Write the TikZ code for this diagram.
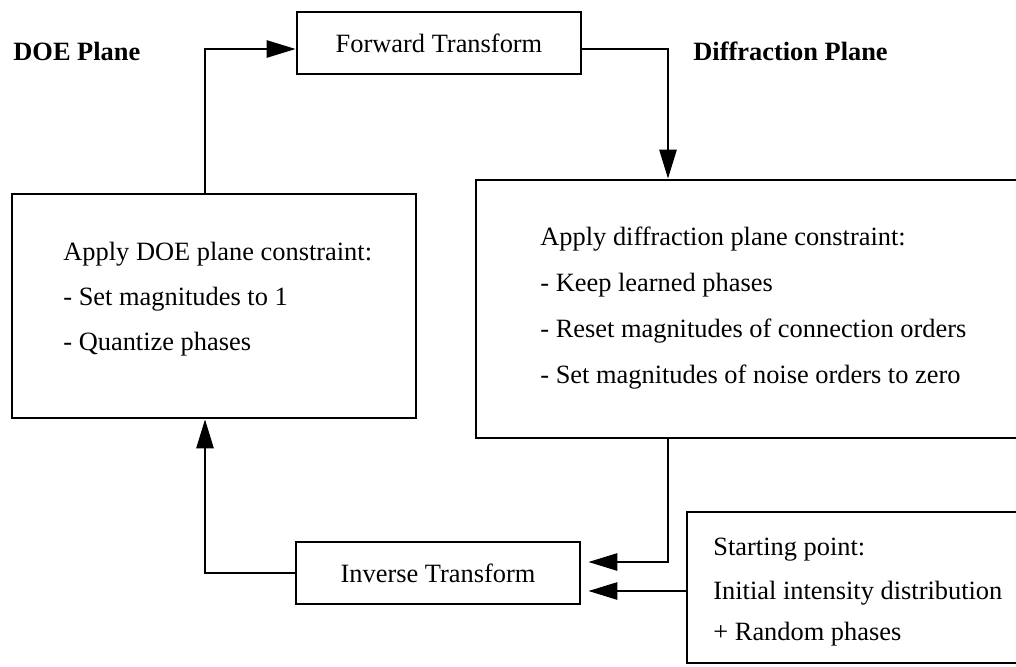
\documentclass[tikz,border=0pt]{standalone}
\usepackage{fontspec}
\setmainfont{Liberation Serif}
\usetikzlibrary{arrows.meta}
\begin{document}
\begin{tikzpicture}[x=0.5pt,y=-0.5pt,
  txt/.style={font=\fontsize{13.2}{16}\selectfont},
  box/.style={draw, line width=1.3pt, inner sep=0pt, anchor=center, txt},
  line/.style={txt, inner sep=0pt, anchor=base west},
  plane/.style={font=\fontsize{13.2}{16}\selectfont\bfseries, inner sep=0pt, anchor=base west},
  flow/.style={line width=1.3pt, -{Triangle[length=14.5pt,width=8.5pt]}}]
\useasboundingbox (0,0) rectangle (1016,666);
\fill[white] (0,0) rectangle (1016,666);

% plane headings
\node[plane] (doeplane) at (13,60) {DOE Plane};
\node[plane] (difplane) at (693,60) {Diffraction Plane};

% transform boxes
\node[box, minimum width=142pt, minimum height=31pt] (fwd) at (439,43) {Forward Transform};
\node[box, minimum width=142pt, minimum height=31pt] (inv) at (438,573) {Inverse Transform};

% constraint boxes
\node[box, minimum width=202pt, minimum height=112pt] (leftbox) at (214,306) {};
\node[box, minimum width=273pt, minimum height=129pt] (rightbox) at (749,309) {};
\node[box, minimum width=167.5pt, minimum height=75.5pt] (start) at (854.5,587.5) {};

% text of the DOE plane constraint
\node[line] (l1) at (63,260) {Apply DOE plane constraint:};
\node[line] (l2) at (63,305) {- Set magnitudes to 1};
\node[line] (l3) at (63,350) {- Quantize phases};

% text of the diffraction plane constraint
\node[line] (r1) at (540,245) {Apply diffraction plane constraint:};
\node[line] (r2) at (540,291) {- Keep learned phases};
\node[line] (r3) at (540,337) {- Reset magnitudes of connection orders};
\node[line] (r4) at (540,383) {- Set magnitudes of noise orders to zero};

% text of the starting point
\node[line] (s1) at (713,555) {Starting point:};
\node[line] (s2) at (713,599) {Initial intensity distribution};
\node[line] (s3) at (713,640) {+ Random phases};

% iteration loop
\draw[flow] ([xshift=-4.5pt]leftbox.north) |- ([yshift=-3pt]fwd.west);
\draw[flow] ([yshift=-3pt]fwd.east) -| ([xshift=-40.5pt]rightbox.north);
\draw[flow, shorten >=3.5pt] ([xshift=-40.5pt]rightbox.south) |- ([yshift=5.5pt]inv.east);
\draw[flow, shorten >=3.5pt] ([yshift=-1.75pt]start.west) -- ([yshift=-9pt]inv.east);
\draw[flow] (inv.west) -| ([xshift=-4.5pt]leftbox.south);
\end{tikzpicture}
\end{document}
